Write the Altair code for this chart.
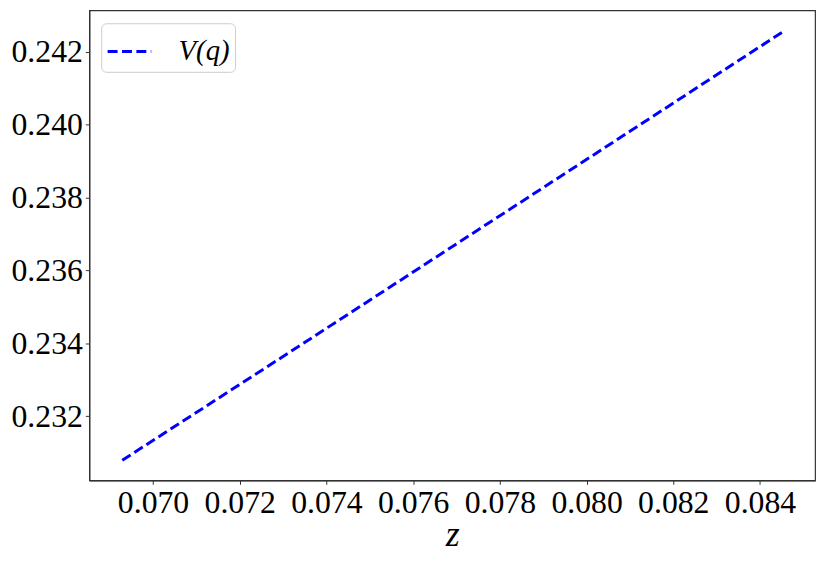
import altair as alt
import pandas as pd

z_vals = [0.06929, 0.07300, 0.07700, 0.08100, 0.08451]
v_vals = [0.23079, 0.23364, 0.23673, 0.23982, 0.24254]
series = ["V(q)"] * len(z_vals)
x_ticks = [0.070, 0.072, 0.074, 0.076, 0.078, 0.080, 0.082, 0.084]
y_ticks = [0.232, 0.234, 0.236, 0.238, 0.240, 0.242]

df = pd.DataFrame({"z": z_vals, "V": v_vals, "s": series})

FONT = "Liberation Serif"

chart = alt.Chart(df).mark_line(strokeWidth=3, strokeDash=[10, 4.5]).encode(
    x=alt.X("z:Q", scale=alt.Scale(domain=[0.06853, 0.08527], nice=False, zero=False),
            axis=alt.Axis(values=x_ticks, format=".3f", title="z", grid=False,
                          titleFontStyle="italic", titleFontWeight="normal", titleFontSize=36,
                          titlePadding=0)),
    y=alt.Y("V:Q", scale=alt.Scale(domain=[0.23024, 0.24314], nice=False, zero=False),
            axis=alt.Axis(values=y_ticks, format=".3f", title=None, grid=False)),
    color=alt.Color("s:N", scale=alt.Scale(range=["#0000ff"]),
                    legend=alt.Legend(title=None, orient="none", legendX=12, legendY=13,
                                      symbolType="stroke", symbolSize=1936, symbolStrokeWidth=3,
                                      symbolDash=[10, 4.5], labelFontSize=29, labelFontStyle="italic",
                                      labelFont=FONT, padding=5, cornerRadius=5,
                                      strokeColor="#cccccc", fillColor="white", labelOffset=26,
                                      labelColor="black")),
).properties(
    width=732, height=474,
    autosize=alt.AutoSizeParams(type="none"),
    padding={"left": 82, "top": 0, "right": 8, "bottom": 80},
).configure_view(stroke="#333333", strokeWidth=1.2).configure_axis(
    labelFont=FONT, titleFont=FONT, labelFontSize=32, labelColor="black", titleColor="black",
    domainColor="#333333", tickColor="#333333", tickSize=4, labelPadding=3, domainWidth=1.2
)

chart.save("out.html", embed_options={"renderer": "svg", "actions": False})
